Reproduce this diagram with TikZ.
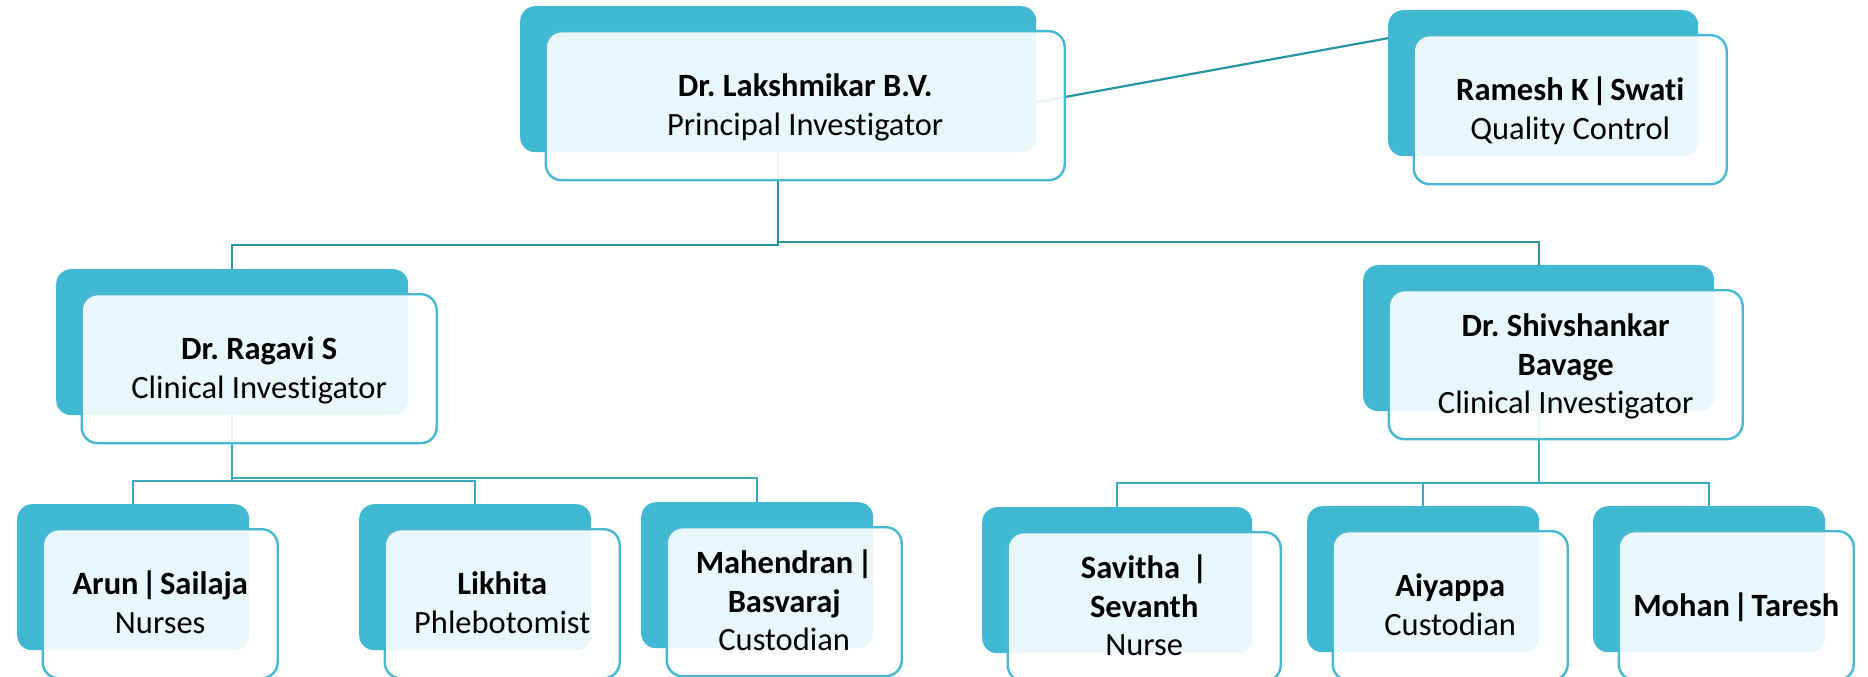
\documentclass[tikz,border=0pt]{standalone}
\usepackage{fontspec}
\setmainfont[Ligatures=NoCommon]{Carlito}
\usetikzlibrary{calc}
\pgfdeclarelayer{bg}
\pgfsetlayers{bg,main}
\frenchspacing
\definecolor{backc}{HTML}{41B8D2}
\definecolor{framec}{HTML}{48B7D1}
\definecolor{topline}{HTML}{2B92A2}
\definecolor{lowline}{HTML}{3CA9C2}
\newcommand\mystrut{\rule[-6bp]{0pt}{33bp}}
\newcommand\sepbar{\hspace{3bp}|\hspace{3bp}}
\tikzset{
  backbox/.style={fill=backc, draw=none, rounded corners=15bp, inner sep=0pt,
    minimum height=146bp, anchor=north west},
  frontbox/.style={fill=white, fill opacity=0.89, text opacity=1, draw=framec,
    line width=2.4bp, rounded corners=16bp, inner sep=0pt, minimum height=149bp,
    anchor=north west, align=center, font=\fontsize{32.5bp}{38.5bp}\selectfont\frenchspacing},
  toplink/.style={draw=topline, line width=2.2bp},
  lowlink/.style={draw=lowline, line width=2.2bp},
}
\newcommand\orgbox[5]{%
  \node[backbox, minimum width=#4bp] (#1b) at (#2,#3) {};
  \node[frontbox, minimum width=#4bp+3bp] (#1) at ([xshift=24.5bp,yshift=-24bp]#1b.north west) {#5};
}
\begin{document}
\begin{tikzpicture}[x=1bp,y=-1bp]
\useasboundingbox (0,0) rectangle (1868,677);
\orgbox{lak}{520}{6}{516}{\mystrut\textbf{Dr. Lakshmikar B.V.}\\\mystrut Principal Investigator}
\orgbox{ram}{1388}{10}{310}{\mystrut\textbf{Ramesh K\sepbar Swati}\\\mystrut Quality Control}
\orgbox{rag}{56}{269}{352}{\mystrut\textbf{Dr. Ragavi S}\\\mystrut Clinical Investigator}
\orgbox{shiv}{1363}{265}{351}{\mystrut\textbf{Dr. Shivshankar}\\\textbf{Bavage}\\\mystrut Clinical Investigator}
\orgbox{arun}{17}{504}{232}{\mystrut\textbf{Arun\sepbar Sailaja}\\\mystrut Nurses}
\orgbox{lik}{359}{504}{232}{\mystrut\textbf{Likhita}\\\mystrut Phlebotomist}
\orgbox{mah}{641}{502}{232}{\mystrut\textbf{Mahendran\hspace{4bp}|}\\\textbf{Basvaraj}\\\mystrut Custodian}
\orgbox{sav}{982}{507}{270}{\mystrut\textbf{Savitha\hspace{12bp}|}\\\textbf{Sevanth}\\\mystrut Nurse}
\orgbox{aiy}{1307}{506}{232}{\mystrut\textbf{Aiyappa}\\\mystrut Custodian}
\orgbox{moh}{1593}{506}{232}{\mystrut\textbf{Mohan\sepbar Taresh}}
\coordinate (lvla) at (0,245);
\coordinate (lvlb) at (0,242);
\coordinate (lvlc) at (0,481);
\coordinate (lvld) at (0,478);
\coordinate (lvle) at (0,483);
\begin{pgfonlayer}{bg}
\draw[toplink] (lakb.south) -- (lakb.south |- lvla) -| (ragb.north);
\draw[toplink] (lakb.south) -- (lakb.south |- lvlb) -| (shivb.north);
\draw[toplink] ([yshift=-23bp]lakb.east) -- ([yshift=45bp]ramb.west);
\draw[lowlink] (ragb.south) -- (ragb.south |- lvlc) -| (arunb.north);
\draw[lowlink] (ragb.south |- lvlc) -| (likb.north);
\draw[lowlink] (ragb.south) -- (ragb.south |- lvld) -| (mahb.north);
\draw[lowlink] (shivb.south) -- (shivb.south |- lvle) -| (savb.north);
\draw[lowlink] (shivb.south |- lvle) -| (aiyb.north);
\draw[lowlink] (shivb.south |- lvle) -| (mohb.north);
\end{pgfonlayer}
\end{tikzpicture}
\end{document}
